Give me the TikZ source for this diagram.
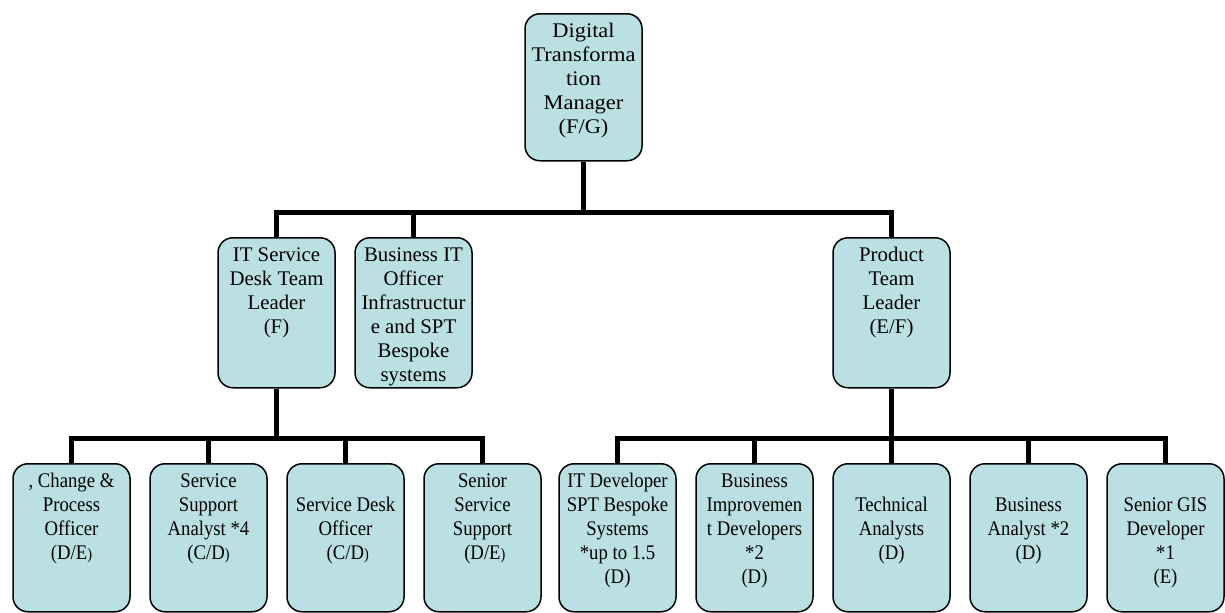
\documentclass[tikz,border=0pt]{standalone}
\usepackage{fontspec}
\setmainfont{Liberation Serif}
\newfontfamily\widefont{Liberation Serif}[FakeStretch=1.08]
\newfontfamily\narrowfont{Liberation Serif}[FakeStretch=0.9]
\definecolor{cardfill}{HTML}{BBE0E3}
\newcommand{\cardtext}[2]{\parbox[t][#1]{58.5pt}{\fontsize{10.4pt}{12pt}\selectfont\centering\rule{0pt}{12pt}#2}}
\newcommand{\sparen}{{\footnotesize)}}
\tikzset{
  card/.style={draw, line width=0.75pt, rounded corners=7.5pt, fill=cardfill, inner sep=0pt, anchor=north},
  lowcard/.style={card, font=\narrowfont},
  conn/.style={line width=2.5pt}
}
\begin{document}
\begin{tikzpicture}[x=0.5pt,y=-0.5pt]
  \useasboundingbox (0,0) rectangle (1225,612);
  % top
  \node[card, font=\widefont] (dtm) at (583.5,13) {\cardtext{73.5pt}{Digital\\Transforma\\tion\\Manager\\(F/G)}};
  % second row
  \node[card] (itsd) at (276.5,237) {\cardtext{75pt}{IT Service\\Desk Team\\Leader\\(F)}};
  \node[card] (bito) at (413.5,237) {\cardtext{75pt}{Business IT\\Officer\\Infrastructur\\e and SPT\\Bespoke\\systems}};
  \node[card] (ptl) at (891.5,237) {\cardtext{75pt}{Product\\Team\\Leader\\(E/F)}};
  % third row, service desk
  \node[lowcard] (cpo) at (71.5,463) {\cardtext{74pt}{, Change \&\\Process\\Officer\\(D/E\sparen}};
  \node[lowcard] (ssa) at (208.5,463) {\cardtext{74pt}{Service\\Support\\Analyst *4\\(C/D\sparen}};
  \node[lowcard] (sdo) at (345.5,463) {\cardtext{74pt}{\\Service Desk\\Officer\\\ (C/D\sparen}};
  \node[lowcard] (sss) at (482.5,463) {\cardtext{74pt}{Senior\\Service\\Support\\\ (D/E\sparen}};
  % third row, product
  \node[lowcard] (itdev) at (617.5,463) {\cardtext{74pt}{IT Developer\\SPT Bespoke\\Systems\\{}*up to 1.5\\(D)}};
  \node[lowcard] (bidev) at (754.5,463) {\cardtext{74pt}{Business\\Improvemen\\t Developers\\{}*2\\(D)}};
  \node[lowcard] (tech) at (891.5,463) {\cardtext{74pt}{\\Technical\\Analysts\\(D)}};
  \node[lowcard] (ba) at (1028.5,463) {\cardtext{74pt}{\\Business\\Analyst *2\\(D)}};
  \node[lowcard] (gis) at (1165.5,463) {\cardtext{74pt}{\\Senior GIS\\Developer\\{}*1\\(E)}};
  \coordinate (upbar) at (0,212);
  \coordinate (lowbar) at (0,438);
  \draw[conn] (dtm.south) -- (dtm.south |- upbar);
  \draw[conn] (itsd.north) -- (itsd.north |- upbar) -- (ptl.north |- upbar) -- (ptl.north);
  \draw[conn] (bito.north) -- (bito.north |- upbar);
  \draw[conn] (itsd.south) -- (itsd.south |- lowbar);
  \draw[conn] (cpo.north) -- (cpo.north |- lowbar) -- (sss.north |- lowbar) -- (sss.north);
  \draw[conn] (ssa.north) -- (ssa.north |- lowbar);
  \draw[conn] (sdo.north) -- (sdo.north |- lowbar);
  \draw[conn] (ptl.south) -- (ptl.south |- lowbar);
  \draw[conn] (itdev.north) -- (itdev.north |- lowbar) -- (gis.north |- lowbar) -- (gis.north);
  \draw[conn] (bidev.north) -- (bidev.north |- lowbar);
  \draw[conn] (tech.north) -- (tech.north |- lowbar);
  \draw[conn] (ba.north) -- (ba.north |- lowbar);
\end{tikzpicture}
\end{document}
